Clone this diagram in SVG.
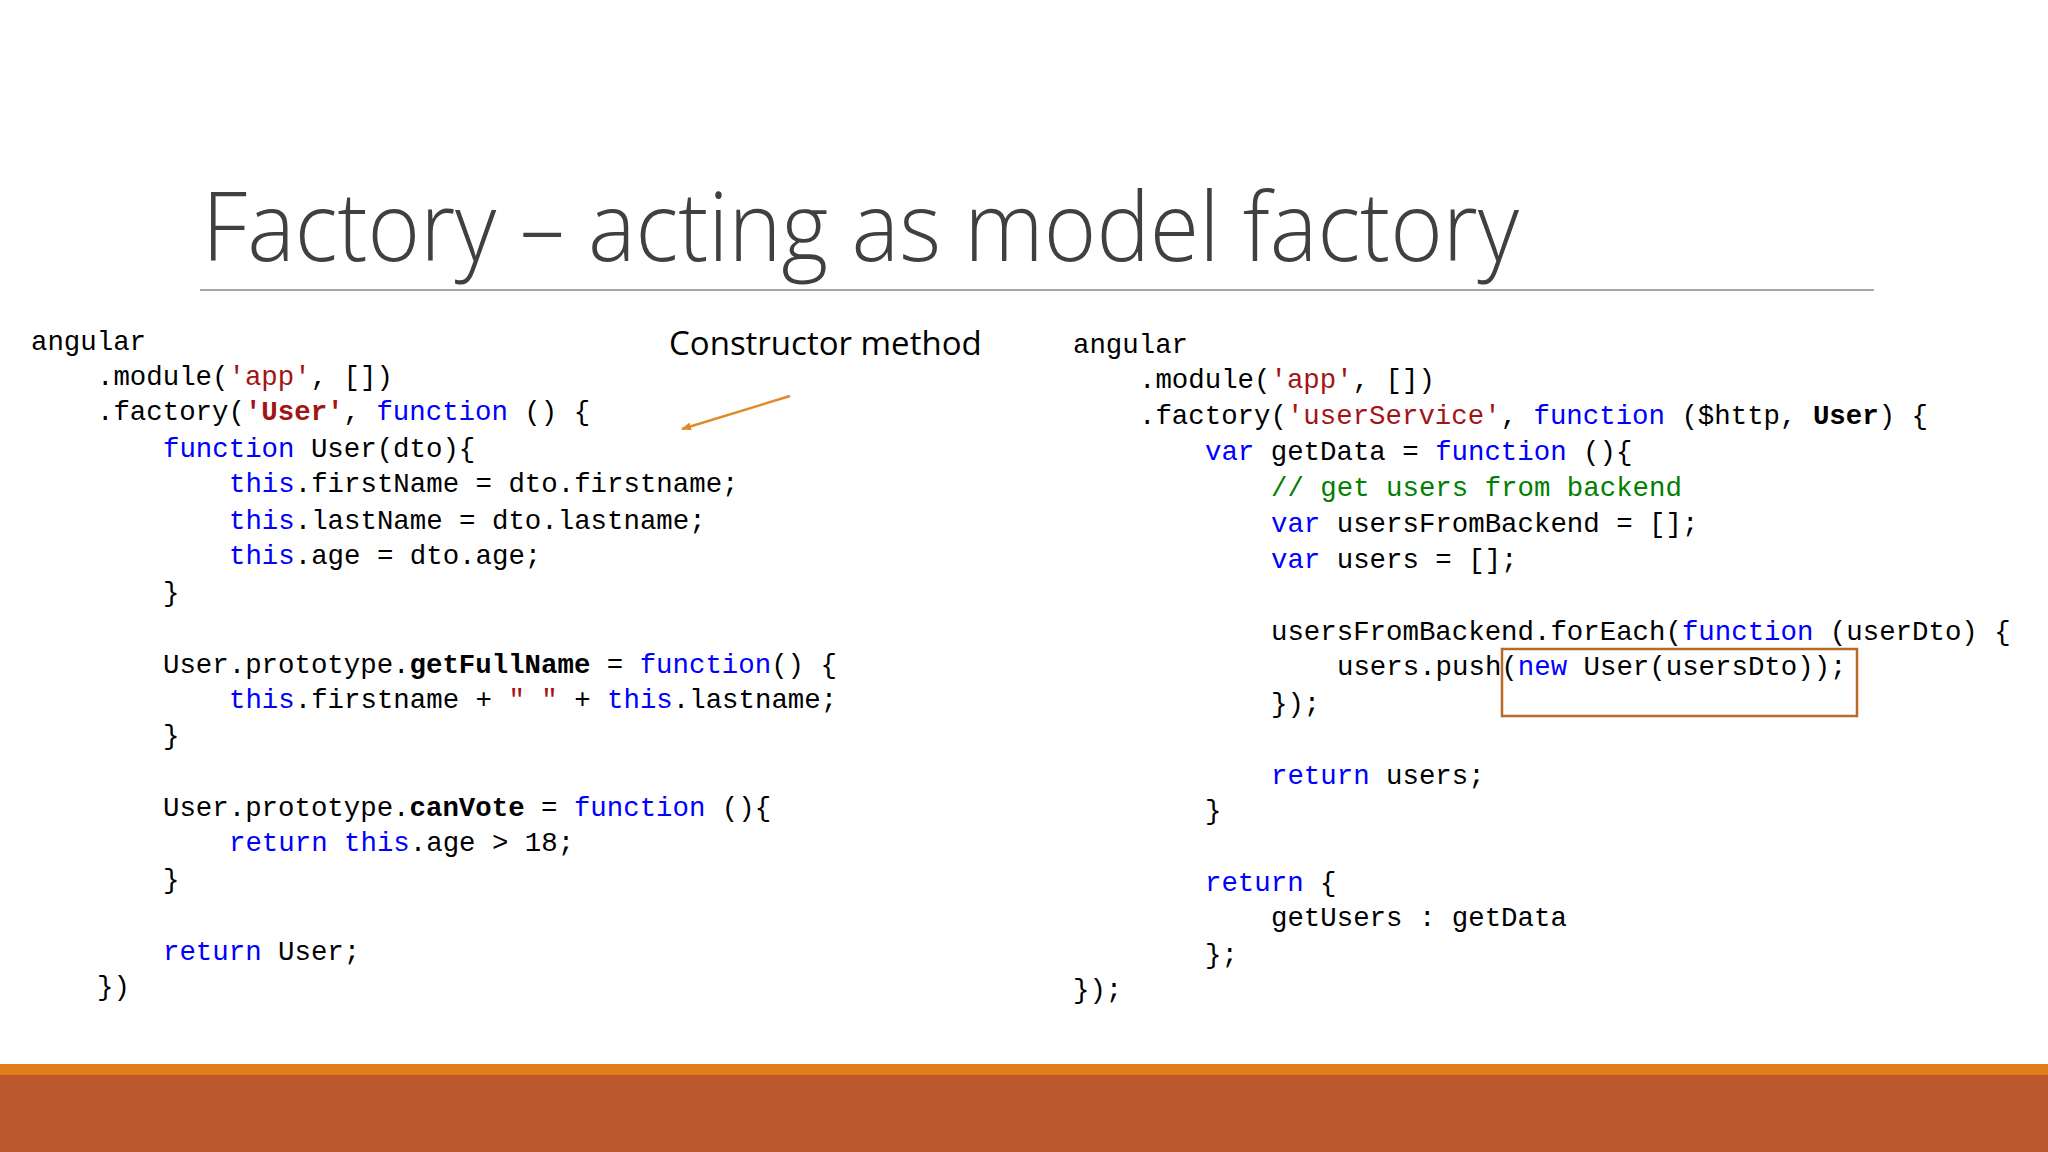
<svg xmlns="http://www.w3.org/2000/svg" width="2048" height="1152" viewBox="0 0 2048 1152">
<defs>
<style>
.code{font-family:"Liberation Mono","DejaVu Sans Mono",monospace;font-size:27.4px;fill:#000;white-space:pre}
.k{fill:#0000FF}.s{fill:#A31515}.c{fill:#008000}.b{font-weight:bold}
</style>
<marker id="ah" markerWidth="10" markerHeight="8" refX="9" refY="4" orient="auto" markerUnits="userSpaceOnUse"><path d="M0,0 L10,4 L0,8 z" fill="#E08A2A"/></marker>
</defs>
<rect width="2048" height="1152" fill="#fff"/>
<g id="title">
<text x="202" y="261" font-family="'Open Sans','Noto Sans',sans-serif" font-weight="300" font-size="96" fill="#404040" textLength="1317" lengthAdjust="spacingAndGlyphs">Factory – acting as model factory</text>
<line x1="200" y1="290" x2="1874" y2="290" stroke="#A6A6A6" stroke-width="2"/>
</g>
<g id="left-code" class="code" xml:space="preserve">
<text x="31" y="350">angular</text>
<text x="97" y="385">.module(<tspan class="s">'app'</tspan>, [])</text>
<text x="97" y="420">.factory(<tspan class="s b">'User'</tspan>, <tspan class="k">function</tspan> () {</text>
<text x="163" y="457"><tspan class="k">function</tspan> User(dto){</text>
<text x="229" y="492"><tspan class="k">this</tspan>.firstName = dto.firstname;</text>
<text x="229" y="529"><tspan class="k">this</tspan>.lastName = dto.lastname;</text>
<text x="229" y="564"><tspan class="k">this</tspan>.age = dto.age;</text>
<text x="163" y="601">}</text>
<text x="163" y="673">User.prototype.<tspan class="b">getFullName</tspan> = <tspan class="k">function</tspan>() {</text>
<text x="229" y="708"><tspan class="k">this</tspan>.firstname + <tspan class="s">" "</tspan> + <tspan class="k">this</tspan>.lastname;</text>
<text x="163" y="744">}</text>
<text x="163" y="816">User.prototype.<tspan class="b">canVote</tspan> = <tspan class="k">function</tspan> (){</text>
<text x="229" y="851"><tspan class="k">return</tspan> <tspan class="k">this</tspan>.age &gt; 18;</text>
<text x="163" y="888">}</text>
<text x="163" y="960"><tspan class="k">return</tspan> User;</text>
<text x="97" y="995">})</text>
</g>
<g id="right-code" class="code" xml:space="preserve">
<text x="1073" y="353">angular</text>
<text x="1139" y="388">.module(<tspan class="s">'app'</tspan>, [])</text>
<text x="1139" y="424">.factory(<tspan class="s">'userService'</tspan>, <tspan class="k">function</tspan> ($http, <tspan class="b">User</tspan>) {</text>
<text x="1205" y="460"><tspan class="k">var</tspan> getData = <tspan class="k">function</tspan> (){</text>
<text x="1271" y="496"><tspan class="c">// get users from backend</tspan></text>
<text x="1271" y="532"><tspan class="k">var</tspan> usersFromBackend = [];</text>
<text x="1271" y="568"><tspan class="k">var</tspan> users = [];</text>
<text x="1271" y="640">usersFromBackend.forEach(<tspan class="k">function</tspan> (userDto) {</text>
<text x="1337" y="675">users.push(<tspan class="k">new</tspan> User(usersDto));</text>
<text x="1271" y="712">});</text>
<text x="1271" y="784"><tspan class="k">return</tspan> users;</text>
<text x="1205" y="819">}</text>
<text x="1205" y="891"><tspan class="k">return</tspan> {</text>
<text x="1271" y="926">getUsers : getData</text>
<text x="1205" y="963">};</text>
<text x="1073" y="998">});</text>
</g>
<g id="annotation">
<text x="669" y="355" font-family="'Open Sans','Noto Sans',sans-serif" font-size="33" fill="#000">Constructor method</text>
<rect x="1502" y="649" width="355" height="67" fill="none" stroke="#B86A28" stroke-width="2.5"/>
</g>
<g id="connectors">
<line x1="790" y1="396" x2="682" y2="429" stroke="#E08A2A" stroke-width="2.5" marker-end="url(#ah)"/>
</g>
<g id="footer">
<rect x="0" y="1064" width="2048" height="11" fill="#E07E1B"/>
<rect x="0" y="1075" width="2048" height="77" fill="#BC582D"/>
</g>
</svg>
